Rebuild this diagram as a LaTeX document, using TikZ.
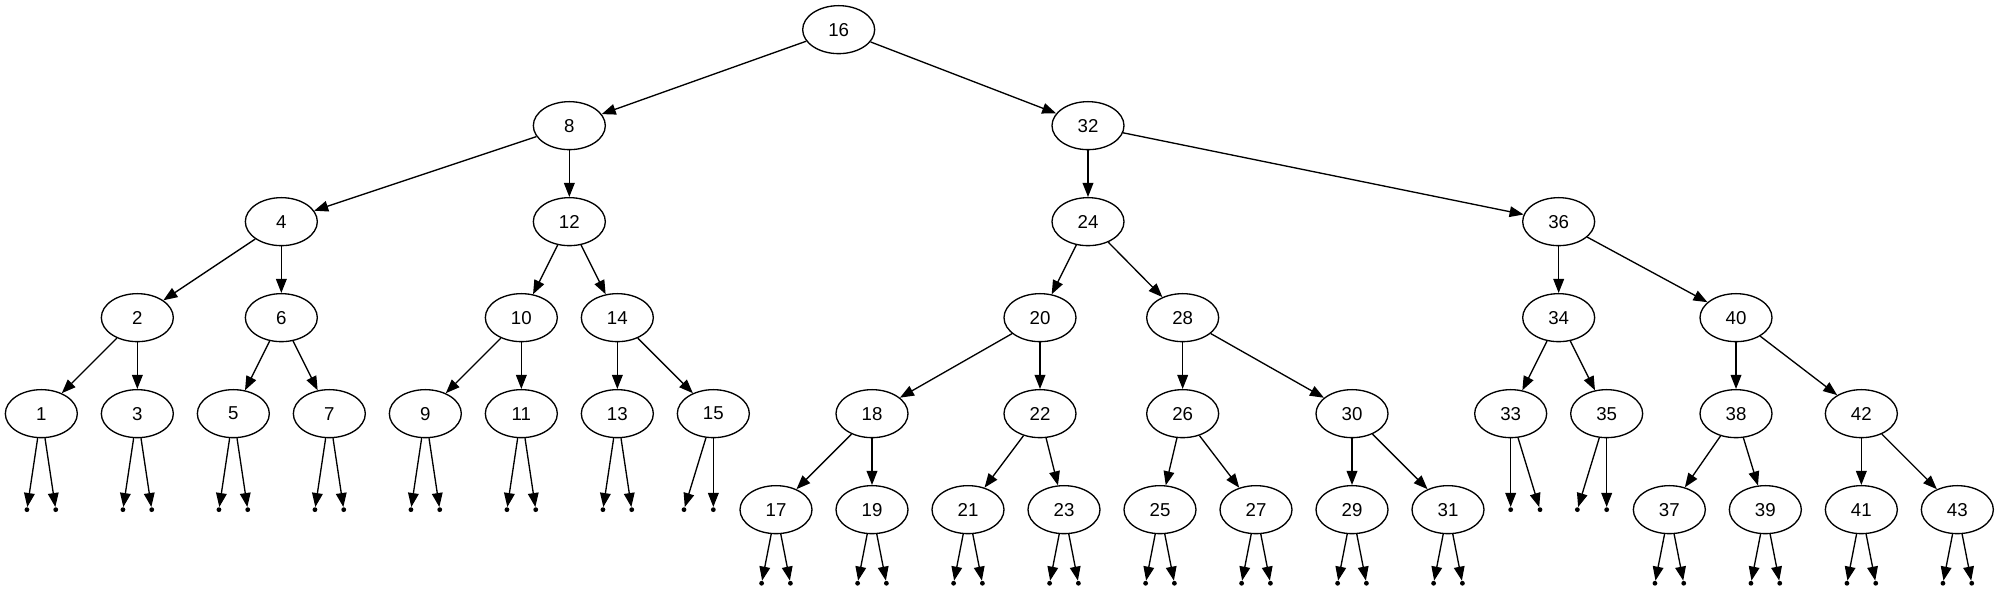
\documentclass[tikz,border=0pt]{standalone}
\usepackage{fontspec}
\setmainfont{Liberation Sans}
\usetikzlibrary{shapes.geometric, arrows.meta}
\tikzset{vertex/.style = {ellipse, draw, line width = 1pt, minimum width = 54pt, minimum height = 36pt, inner sep = 0pt, font = \fontsize{14}{16}\selectfont}}
\tikzset{nil/.style = {circle, fill, inner sep = 0pt, minimum size = 3.6pt}}
\tikzset{arr/.style = {-{Triangle[length = 10.5pt, width = 8pt]}, line width = 1pt}}

\begin{document}
\begin{tikzpicture}[x = 1pt, y = 1pt]
	  \useasboundingbox (0, 0) rectangle (1499.25, 443.25);
	  % 结点
	  \node[vertex] (n16) at (629, 421) {16};
	  \node[vertex] (n8) at (427, 349) {8};
	  \node[vertex] (n32) at (816, 349) {32};
	  \node[vertex] (n4) at (211, 277) {4};
	  \node[vertex] (n12) at (427, 277) {12};
	  \node[vertex] (n24) at (816, 277) {24};
	  \node[vertex] (n36) at (1169, 277) {36};
	  \node[vertex] (n2) at (103, 205) {2};
	  \node[vertex] (n6) at (211, 205) {6};
	  \node[vertex] (n10) at (391, 205) {10};
	  \node[vertex] (n14) at (463, 205) {14};
	  \node[vertex] (n20) at (780, 205) {20};
	  \node[vertex] (n28) at (887, 205) {28};
	  \node[vertex] (n34) at (1169, 205) {34};
	  \node[vertex] (n40) at (1302, 205) {40};
	  \node[vertex] (n1) at (31, 133) {1};
	  \node[vertex] (n3) at (103, 133) {3};
	  \node[vertex] (n5) at (175, 133) {5};
	  \node[vertex] (n7) at (247, 133) {7};
	  \node[vertex] (n9) at (319, 133) {9};
	  \node[vertex] (n11) at (391, 133) {11};
	  \node[vertex] (n13) at (463, 133) {13};
	  \node[vertex] (n15) at (535, 133) {15};
	  \node[vertex] (n18) at (654, 133) {18};
	  \node[vertex] (n22) at (780, 133) {22};
	  \node[vertex] (n26) at (887, 133) {26};
	  \node[vertex] (n30) at (1014, 133) {30};
	  \node[vertex] (n33) at (1133, 133) {33};
	  \node[vertex] (n35) at (1205, 133) {35};
	  \node[vertex] (n38) at (1302, 133) {38};
	  \node[vertex] (n42) at (1396, 133) {42};
	  \node[vertex] (n17) at (582, 61) {17};
	  \node[vertex] (n19) at (654, 61) {19};
	  \node[vertex] (n21) at (726, 61) {21};
	  \node[vertex] (n23) at (798, 61) {23};
	  \node[vertex] (n25) at (870, 61) {25};
	  \node[vertex] (n27) at (942, 61) {27};
	  \node[vertex] (n29) at (1014, 61) {29};
	  \node[vertex] (n31) at (1086, 61) {31};
	  \node[vertex] (n37) at (1252, 61) {37};
	  \node[vertex] (n39) at (1324, 61) {39};
	  \node[vertex] (n41) at (1396, 61) {41};
	  \node[vertex] (n43) at (1468, 61) {43};
	  % 空指针
	  \node[nil] (p1l) at (20.2, 61) {};
	  \node[nil] (p1r) at (41.8, 61) {};
	  \node[nil] (p3l) at (92.2, 61) {};
	  \node[nil] (p3r) at (113.8, 61) {};
	  \node[nil] (p5l) at (164.2, 61) {};
	  \node[nil] (p5r) at (185.8, 61) {};
	  \node[nil] (p7l) at (236.2, 61) {};
	  \node[nil] (p7r) at (257.8, 61) {};
	  \node[nil] (p9l) at (308.2, 61) {};
	  \node[nil] (p9r) at (329.8, 61) {};
	  \node[nil] (p11l) at (380.2, 61) {};
	  \node[nil] (p11r) at (401.8, 61) {};
	  \node[nil] (p13l) at (452.2, 61) {};
	  \node[nil] (p13r) at (473.8, 61) {};
	  \node[nil] (p15l) at (513, 61) {};
	  \node[nil] (p15r) at (535, 61) {};
	  \node[nil] (p33l) at (1133, 61) {};
	  \node[nil] (p33r) at (1155, 61) {};
	  \node[nil] (p35l) at (1183, 61) {};
	  \node[nil] (p35r) at (1205, 61) {};
	  \node[nil] (p17l) at (571.2, 5.8) {};
	  \node[nil] (p17r) at (592.8, 5.8) {};
	  \node[nil] (p19l) at (643.2, 5.8) {};
	  \node[nil] (p19r) at (664.8, 5.8) {};
	  \node[nil] (p21l) at (715.2, 5.8) {};
	  \node[nil] (p21r) at (736.8, 5.8) {};
	  \node[nil] (p23l) at (787.2, 5.8) {};
	  \node[nil] (p23r) at (808.8, 5.8) {};
	  \node[nil] (p25l) at (859.2, 5.8) {};
	  \node[nil] (p25r) at (880.8, 5.8) {};
	  \node[nil] (p27l) at (931.2, 5.8) {};
	  \node[nil] (p27r) at (952.8, 5.8) {};
	  \node[nil] (p29l) at (1003.2, 5.8) {};
	  \node[nil] (p29r) at (1024.8, 5.8) {};
	  \node[nil] (p31l) at (1075.2, 5.8) {};
	  \node[nil] (p31r) at (1096.8, 5.8) {};
	  \node[nil] (p37l) at (1241.2, 5.8) {};
	  \node[nil] (p37r) at (1262.8, 5.8) {};
	  \node[nil] (p39l) at (1313.2, 5.8) {};
	  \node[nil] (p39r) at (1334.8, 5.8) {};
	  \node[nil] (p41l) at (1385.2, 5.8) {};
	  \node[nil] (p41r) at (1406.8, 5.8) {};
	  \node[nil] (p43l) at (1457.2, 5.8) {};
	  \node[nil] (p43r) at (1478.8, 5.8) {};
	  % 连线
	  \draw[arr] (n16) edge (n8) edge (n32);
	  \draw[arr] (n8) edge (n4) edge (n12);
	  \draw[arr] (n32) edge (n24) edge (n36);
	  \draw[arr] (n4) edge (n2) edge (n6);
	  \draw[arr] (n12) edge (n10) edge (n14);
	  \draw[arr] (n24) edge (n20) edge (n28);
	  \draw[arr] (n36) edge (n34) edge (n40);
	  \draw[arr] (n2) edge (n1) edge (n3);
	  \draw[arr] (n6) edge (n5) edge (n7);
	  \draw[arr] (n10) edge (n9) edge (n11);
	  \draw[arr] (n14) edge (n13) edge (n15);
	  \draw[arr] (n20) edge (n18) edge (n22);
	  \draw[arr] (n28) edge (n26) edge (n30);
	  \draw[arr] (n34) edge (n33) edge (n35);
	  \draw[arr] (n40) edge (n38) edge (n42);
	  \draw[arr] (n18) edge (n17) edge (n19);
	  \draw[arr] (n22) edge (n21) edge (n23);
	  \draw[arr] (n26) edge (n25) edge (n27);
	  \draw[arr] (n30) edge (n29) edge (n31);
	  \draw[arr] (n38) edge (n37) edge (n39);
	  \draw[arr] (n42) edge (n41) edge (n43);
	  % 叶子的空指针
	  \draw[arr] (n1) edge (p1l) edge (p1r);
	  \draw[arr] (n3) edge (p3l) edge (p3r);
	  \draw[arr] (n5) edge (p5l) edge (p5r);
	  \draw[arr] (n7) edge (p7l) edge (p7r);
	  \draw[arr] (n9) edge (p9l) edge (p9r);
	  \draw[arr] (n11) edge (p11l) edge (p11r);
	  \draw[arr] (n13) edge (p13l) edge (p13r);
	  \draw[arr] (n15) edge (p15l) edge (p15r);
	  \draw[arr] (n33) edge (p33l) edge (p33r);
	  \draw[arr] (n35) edge (p35l) edge (p35r);
	  \draw[arr] (n17) edge (p17l) edge (p17r);
	  \draw[arr] (n19) edge (p19l) edge (p19r);
	  \draw[arr] (n21) edge (p21l) edge (p21r);
	  \draw[arr] (n23) edge (p23l) edge (p23r);
	  \draw[arr] (n25) edge (p25l) edge (p25r);
	  \draw[arr] (n27) edge (p27l) edge (p27r);
	  \draw[arr] (n29) edge (p29l) edge (p29r);
	  \draw[arr] (n31) edge (p31l) edge (p31r);
	  \draw[arr] (n37) edge (p37l) edge (p37r);
	  \draw[arr] (n39) edge (p39l) edge (p39r);
	  \draw[arr] (n41) edge (p41l) edge (p41r);
	  \draw[arr] (n43) edge (p43l) edge (p43r);
	\end{tikzpicture}
\end{document}
